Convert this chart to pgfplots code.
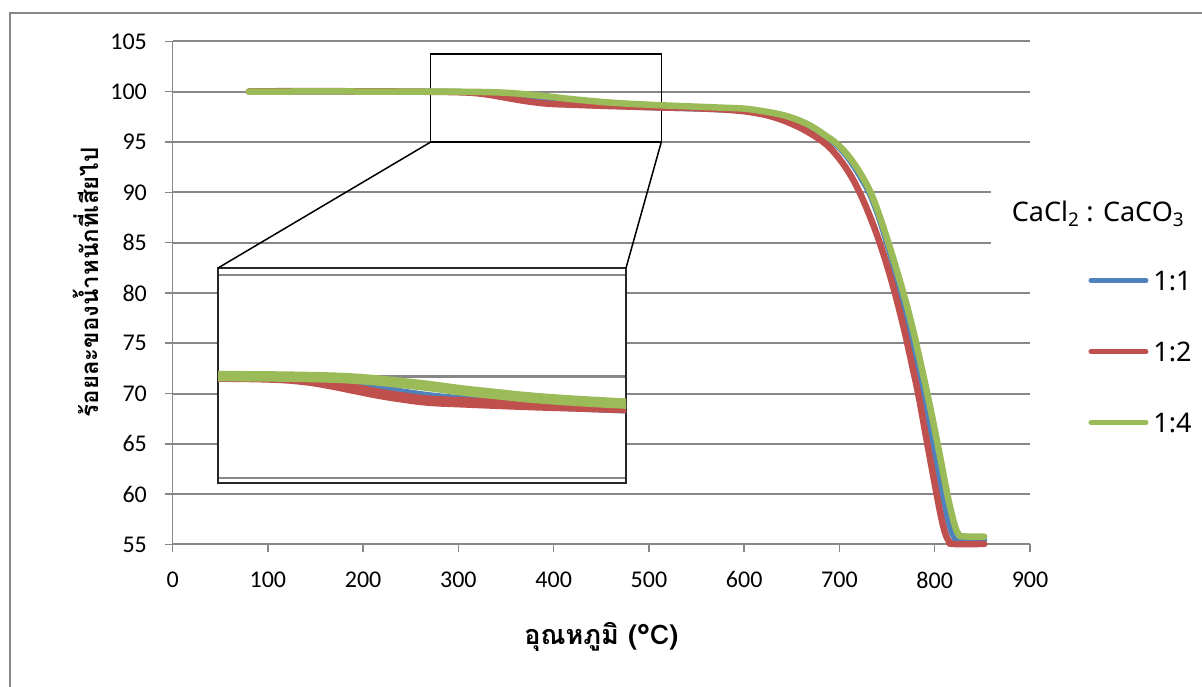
\documentclass[border=0pt]{standalone}
\usepackage{fontspec}
\usepackage{pgfplots}
\usepackage{pgfplotstable}
\pgfplotsset{compat=1.18}
\setmainfont{Carlito}
\newfontfamily\thaifont[Script=Thai]{Loma}
\newfontfamily\legfont{Noto Sans}
\definecolor{s1}{HTML}{4F81BD}
\definecolor{s2}{HTML}{C0504D}
\definecolor{s3}{HTML}{9BBB59}
\definecolor{gridgray}{HTML}{878787}
\newcommand\tickfont{\fontsize{24}{28}\selectfont}

% mass remaining (%) vs temperature (deg C), CaCl2 : CaCO3 = 1:1
\pgfplotstableread{
T W
80 100.0
120 100.02
200 100.01
260 100.0
300 99.97
320 99.9
340 99.72
360 99.45
380 99.15
400 98.93
420 98.8
450 98.65
480 98.52
510 98.42
550 98.32
590 98.18
617 97.95
635 97.6
650 97.15
665 96.5
680 95.7
694 94.9
705 93.9
715 92.6
724 91.2
732 89.8
741 87.6
749 85.2
757 82.6
764 80.0
771 77.2
777 74.9
787.3 70.0
797.8 65.0
808.3 60.0
813 57.8
817 56.4
820.5 55.75
824 55.5
852 55.45
}\tabA

% 1:2
\pgfplotstableread{
T W
80 100.02
120 100.05
200 100.04
260 100.0
300 99.95
320 99.84
335 99.65
350 99.4
365 99.15
380 98.95
395 98.8
415 98.72
450 98.6
480 98.52
510 98.44
550 98.35
590 98.15
617 97.8
635 97.35
650 96.8
665 96.1
683 95.0
695 93.9
707 92.4
718 90.6
729 88.3
740 85.6
750 82.7
759 79.7
768 76.3
776 72.9
783 69.8
792.2 65.0
802 60.0
807 57.6
811 56.1
815 55.3
819 55.05
852 55.05
}\tabB

% 1:4
\pgfplotstableread{
T W
80 100.0
120 100.02
200 100.02
260 100.01
300 100.0
338 99.94
360 99.83
377 99.69
395 99.52
415 99.3
435 99.12
455 98.95
480 98.8
508 98.67
540 98.55
575 98.42
600 98.32
617 98.1
635 97.8
652 97.35
670 96.6
686 95.6
695 95.0
705 94.1
715 92.9
725 91.4
734 89.7
743 87.4
752 84.8
760 82.3
768 79.7
775 77.2
781 74.8
792.2 70.0
803 65.0
813.2 60.0
818 58.0
822 56.6
825.5 55.95
829 55.8
852 55.77
}\tabC

\pgfplotsset{
  tga/.style={line cap=round, line join=round, smooth, tension=0.65},
}

\begin{document}
\begin{tikzpicture}
\useasboundingbox (0pt,0pt) rectangle (1202pt,-686pt);
% chart frame
\draw[gridgray, line width=2pt] (10pt,-700pt) -- (10pt,-13pt) -- (1215pt,-13pt);

\begin{axis}[
  name=main,
  at={(172.6pt,-544.4pt)}, anchor=south west,
  scale only axis, width=857.4pt, height=503pt,
  xmin=0, xmax=900, ymin=55, ymax=105,
  xtick={0,100,...,900}, ytick={55,60,...,105},
  axis x line*=bottom, axis y line*=left,
  axis line style={gridgray, line width=1.5pt},
  tick style={gridgray, line width=1.5pt},
  major tick length=8pt, tick align=outside,
  ymajorgrids, grid style={gridgray, line width=2pt},
  xticklabel={\tickfont\pgfmathprintnumber{\tick}},
  yticklabel={\tickfont\pgfmathprintnumber{\tick}},
  tick label style={inner sep=0pt},
  xticklabel style={yshift=-19pt},
  yticklabel style={xshift=-17.5pt},
  /pgf/number format/assume math mode=true,
  clip=false,
  xlabel={อุณหภูมิ (°C)},
  ylabel={ร้อยละของน้ำหนักที่เสียไป},
  xlabel style={at={(axis description cs:0.5,-0.184)}, anchor=center,
    font=\thaifont\bfseries\fontsize{27}{32}\selectfont},
  ylabel style={at={(axis description cs:-0.1015,0.521)}, anchor=center,
    font=\thaifont\bfseries\fontsize{24}{29}\selectfont},
  legend style={at={(1.0682,0.5435)}, anchor=north west, draw=none, fill=none,
    inner sep=0pt, outer sep=0pt,
    font=\legfont\fontsize{27}{32}\selectfont,
    nodes={inner sep=0pt, text height=19pt, text depth=0pt},
    row sep=52pt,
    /tikz/every odd column/.append style={column sep=5pt}},
  legend cell align=left,
  legend image code/.code={\draw[#1, line width=5pt, line cap=round] (2.5pt,0pt) -- (57.5pt,0pt);},
]
\draw[black, line width=1.3pt] (axis cs:271,95) rectangle (axis cs:513,103.75);
\coordinate (srcL) at (axis cs:271,95);
\coordinate (srcR) at (axis cs:513,95);
\addplot[s1, line width=6pt, tga] table[x=T, y=W] {\tabA};
\addlegendentry{1:1}
\addplot[s2, line width=6.5pt, tga] table[x=T, y=W] {\tabB};
\addlegendentry{1:2}
\addplot[s3, line width=6.5pt, tga] table[x=T, y=W] {\tabC};
\addlegendentry{1:4}
\end{axis}

% legend title
\fill[white] (991pt,-160pt) rectangle (1202pt,-262pt);
\node[font=\legfont\fontsize{27}{32}\selectfont, anchor=base] at (1098pt,-221pt)
  {CaCl\textsubscript{2} : CaCO\textsubscript{3}};

% magnified view of the 270-515 deg C region
\begin{axis}[
  name=inset,
  at={(218pt,-483pt)}, anchor=south west,
  scale only axis, width=408pt, height=215pt,
  xmin=271, xmax=510, ymin=94.75, ymax=105.34,
  xtick=\empty, ytick={95,100,105}, yticklabels={},
  tick style={draw=none},
  ymajorgrids, grid style={gridgray, line width=2.6pt},
  axis line style={black!85, line width=1.3pt},
  axis background/.style={fill=white},
]
\addplot[s1, line width=10pt, tga] table[x=T, y=W] {\tabA};
\addplot[s2, line width=10.5pt, tga] table[x=T, y=W] {\tabB};
\addplot[s3, line width=10.5pt, tga] table[x=T, y=W] {\tabC};
\end{axis}
\draw[black, line width=1.5pt] (srcL) -- (inset.north west);
\draw[black, line width=1.5pt] (srcR) -- (inset.north east);
\end{tikzpicture}
\end{document}
